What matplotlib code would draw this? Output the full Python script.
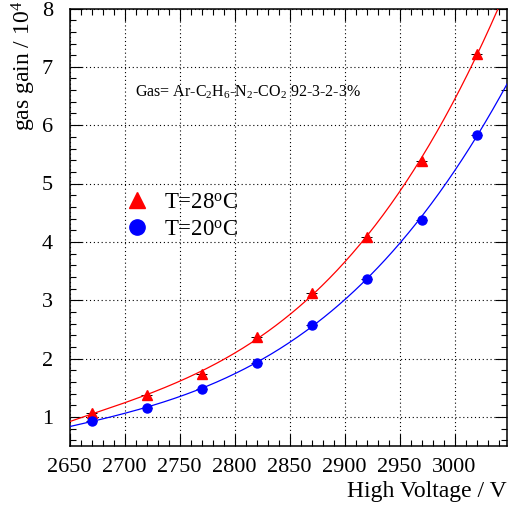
import numpy as np
import matplotlib
matplotlib.use("Agg")
import matplotlib.pyplot as plt
from matplotlib.ticker import MultipleLocator
from matplotlib.lines import Line2D
from matplotlib.transforms import IdentityTransform

# ---- data ----
hv = [2670, 2720, 2770, 2820, 2870, 2920, 2970, 3020]
gain_28 = [1.06, 1.37, 1.73, 2.37, 3.12, 4.09, 5.38, 7.22]
gain_20 = [0.93, 1.15, 1.475, 1.93, 2.58, 3.37, 4.38, 5.825]
hv_err = [5, 5, 5, 5, 5, 5, 5, 5]
label_28 = "T=28$^{\\rm o}$C"
label_20 = "T=20$^{\\rm o}$C"
gas_text = "Gas= Ar-C$_2$H$_6$-N$_2$-CO$_2$ 92-3-2-3%"

plt.rcParams['font.family'] = ['Liberation Serif', 'DejaVu Serif']
plt.rcParams['mathtext.fontset'] = 'custom'
plt.rcParams['mathtext.rm'] = 'Liberation Serif'
plt.rcParams['mathtext.it'] = 'Liberation Serif:italic'
plt.rcParams['mathtext.bf'] = 'Liberation Serif:bold'

W, H = 508, 505
fig = plt.figure(figsize=(W / 100, H / 100), dpi=100)
ax = fig.add_axes([69.5 / W, 59 / H, 437.5 / W, 437.5 / H])

ax.set_xlim(2650, 3047.7)
ax.set_ylim(0.5, 8.0)

# fits
x_fit = np.linspace(2650, 3047.7, 400)
for g, c in ((gain_28, '#ff0000'), (gain_20, '#0000ff')):
    p = np.polyfit(hv, g, 3)
    ax.plot(x_fit, np.polyval(p, x_fit), color=c, lw=0.9, zorder=3)

ax.errorbar(hv, gain_28, xerr=hv_err, fmt='none', ecolor='k', elinewidth=0.7, zorder=2)
ax.errorbar(hv, gain_20, xerr=hv_err, fmt='none', ecolor='k', elinewidth=0.7, zorder=2)
ax.plot(hv, gain_28, ls='none', marker='^', ms=7, color='#ff0000', mec='#ff0000', zorder=4)
ax.plot(hv, gain_20, ls='none', marker='o', ms=6.5, color='#0000ff', mec='#0000ff', zorder=4)

ax.xaxis.set_major_locator(MultipleLocator(50))
ax.xaxis.set_minor_locator(MultipleLocator(10))
ax.yaxis.set_major_locator(MultipleLocator(1))
ax.yaxis.set_minor_locator(MultipleLocator(0.2))
ax.tick_params(which='both', direction='in', top=True, right=True, width=0.8, colors='k')
ax.tick_params(which='major', length=8.6, labelsize=16, pad=9)
ax.tick_params(which='minor', length=4.3)
ax.tick_params(axis='y', which='major', pad=12)
for s in ax.spines.values():
    s.set_linewidth(1.1)

ax.grid(True, which='major', color='k', linestyle=(0, (1, 2.5)), lw=0.8)
ax.set_axisbelow(True)

ax.set_xlabel("High Voltage / V", fontsize=17, loc='right', va='baseline')
ax.xaxis.set_label_coords(1.0, -(497 - 446) / 437.5)
ax.set_ylabel("gas gain / 10$^4$", fontsize=17, loc='top')
ax.yaxis.set_label_coords((38 - 69.5) / 437.5, (446 - 1) / 437.5)

t = ax.text(0, 0, gas_text, fontsize=11.5)
t.set_transform(IdentityTransform())
t.set_position((135, H - 97))

handles = [Line2D([], [], ls='none', marker='^', ms=11, color='#ff0000'),
           Line2D([], [], ls='none', marker='o', ms=11, color='#0000ff')]
leg = ax.legend(handles, [label_28, label_20], loc='upper left', frameon=False,
                fontsize=16.5, bbox_to_anchor=(114 / W, 1 - 181 / H),
                bbox_transform=fig.transFigure, handlelength=1.0,
                handletextpad=0.68, labelspacing=0.25, borderpad=0)

fig.savefig("out.png", dpi=100)
